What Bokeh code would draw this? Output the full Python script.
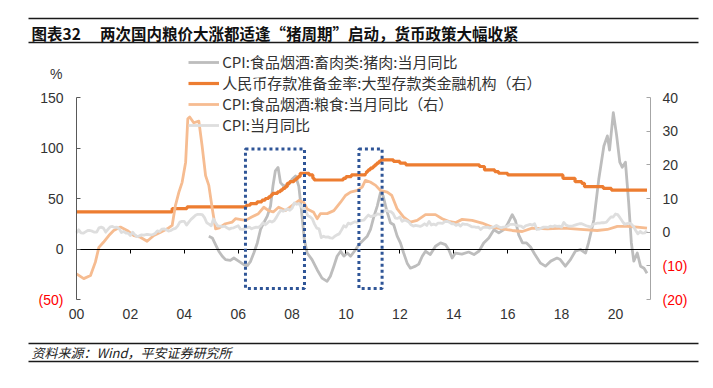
from bokeh.plotting import figure
from bokeh.models import (Range1d, LinearAxis, FixedTicker, Label, Legend,
                          LegendItem, BoxAnnotation)
from bokeh.embed import file_html
from bokeh.resources import INLINE

# ---------------- data ----------------
# CPI YoY (%), monthly from 2000-01 (right axis)
cpi_start = 2000.0
cpi_yoy = [
    -0.2, 0.7, -0.2, -0.3, 0.1, 0.5, 0.5, 0.3, 0.0, 0.0, 1.3, 1.5,      # 2000
    1.2, 0.0, 0.8, 1.6, 1.7, 1.4, 1.5, 1.0, -0.1, 0.2, -0.3, -0.3,      # 2001
    -1.0, 0.0, -0.8, -1.3, -1.1, -0.8, -0.9, -0.7, -0.7, -0.8, -0.7, -0.4,  # 2002
    0.4, 0.2, 0.9, 1.0, 0.7, 0.3, 0.5, 0.9, 1.1, 1.8, 3.0, 3.2,         # 2003
    3.2, 2.1, 3.0, 3.8, 4.4, 5.0, 5.3, 5.3, 5.2, 4.3, 2.8, 2.4,         # 2004
    1.9, 3.9, 2.7, 1.8, 1.8, 1.6, 1.8, 1.3, 0.9, 1.2, 1.3, 1.6,         # 2005
    1.9, 0.9, 0.8, 1.2, 1.4, 1.5, 1.0, 1.3, 1.5, 1.4, 1.9, 2.8,         # 2006
    2.2, 2.7, 3.3, 3.0, 3.4, 4.4, 5.6, 6.5, 6.2, 6.5, 6.9, 6.5,         # 2007
    7.1, 8.7, 8.3, 8.5, 7.7, 7.1, 6.3, 4.9, 4.6, 4.0, 2.4, 1.2,         # 2008
    1.0, -1.6, -1.2, -1.5, -1.4, -1.7, -1.8, -1.2, -0.8, -0.5, 0.6, 1.9,  # 2009
    1.5, 2.7, 2.4, 2.8, 3.1, 2.9, 3.3, 3.5, 3.6, 4.4, 5.1, 4.6,         # 2010
    4.9, 4.9, 5.4, 5.3, 5.5, 6.4, 6.5, 6.2, 6.1, 5.5, 4.2, 4.1,         # 2011
    4.5, 3.2, 3.6, 3.4, 3.0, 2.2, 1.8, 2.0, 1.9, 1.7, 2.0, 2.5,         # 2012
    2.0, 3.2, 2.1, 2.4, 2.1, 2.7, 2.7, 2.6, 3.1, 3.2, 3.0, 2.5,         # 2013
    2.5, 2.0, 2.4, 1.8, 2.5, 2.3, 2.3, 2.0, 1.6, 1.6, 1.4, 1.5,         # 2014
    0.8, 1.4, 1.4, 1.5, 1.2, 1.4, 1.6, 2.0, 1.6, 1.3, 1.5, 1.6,         # 2015
    1.8, 2.3, 2.3, 2.3, 2.0, 1.9, 1.8, 1.3, 1.9, 2.1, 2.3, 2.1,         # 2016
    2.5, 0.8, 0.9, 1.2, 1.5, 1.5, 1.4, 1.8, 1.6, 1.9, 1.7, 1.8,         # 2017
    1.5, 2.9, 2.1, 1.8, 1.8, 1.9, 2.1, 2.3, 2.5, 2.5, 2.2, 1.9,         # 2018
    1.7, 1.5, 2.3, 2.5, 2.7, 2.7, 2.8, 2.8, 3.0, 3.8, 4.5, 4.5,         # 2019
    5.4, 5.2, 4.3, 3.3, 2.4, 2.5, 2.7, 2.4, 1.7, 0.5, -0.5, 0.2,        # 2020
    -0.3, -0.2, 0.4,                                                    # 2021
]

# Pork CPI YoY (%) (left axis): (time, value)
pork_points = [
    (2004.91, 12.7), (2005.04, 11.0), (2005.16, 4.4), (2005.28, -2.2), (2005.41, -7.2),
    (2005.53, -10.5), (2005.71, -11.2), (2005.84, -8.9), (2006.03, -12.2), (2006.21, -15.5),
    (2006.34, -16.5), (2006.46, -12.2), (2006.58, -3.9), (2006.71, 6.0), (2006.83, 19.4),
    (2006.95, 26.0), (2007.08, 32.6), (2007.2, 42.5), (2007.29, 62.4), (2007.38, 77.4),
    (2007.48, 80.7), (2007.57, 65.7), (2007.69, 62.4), (2007.88, 64.0), (2008.0, 69.0),
    (2008.13, 72.4), (2008.25, 62.0), (2008.35, 38.0), (2008.45, 10.0), (2008.56, -4.0),
    (2008.74, -10.5), (2008.93, -20.5), (2009.11, -28.8), (2009.3, -32.0), (2009.42, -27.0),
    (2009.55, -17.0), (2009.67, -7.2), (2009.8, -2.2), (2009.92, -7.0), (2010.05, -4.0),
    (2010.17, -7.2), (2010.36, -0.5), (2010.48, 4.4), (2010.6, 7.7), (2010.79, 12.7),
    (2010.91, 19.4), (2011.04, 32.6), (2011.16, 42.5), (2011.28, 55.8), (2011.38, 52.5),
    (2011.5, 39.2), (2011.65, 26.0), (2011.77, 24.0), (2011.9, 12.7), (2012.02, 6.0),
    (2012.14, -4.0), (2012.27, -14.0), (2012.39, -19.0), (2012.58, -17.0), (2012.7, -15.0),
    (2012.83, -7.2), (2012.95, -2.2), (2013.13, -5.5), (2013.32, 2.7), (2013.51, 6.0),
    (2013.69, 4.4), (2013.81, -0.5), (2013.94, -8.9), (2014.06, -4.0), (2014.3, -5.0),
    (2014.55, -3.0), (2014.75, -5.5), (2014.94, -2.0), (2015.11, 6.0), (2015.3, 11.0),
    (2015.49, 19.0), (2015.67, 16.0), (2015.85, 19.0), (2015.98, 24.0), (2016.17, 34.0),
    (2016.29, 28.0), (2016.41, 14.0), (2016.55, 6.0), (2016.7, 6.0), (2016.85, 2.0),
    (2017.0, -5.0), (2017.22, -14.0), (2017.4, -17.0), (2017.6, -12.0), (2017.83, -9.0),
    (2017.95, -10.5), (2018.14, -17.0), (2018.33, -10.5), (2018.51, -2.2), (2018.7, -0.5),
    (2018.89, -4.0), (2019.0, 6.0), (2019.2, 29.0), (2019.38, 69.0), (2019.57, 102.0),
    (2019.7, 112.0), (2019.78, 98.0), (2019.92, 135.0), (2020.04, 113.0), (2020.16, 86.0),
    (2020.25, 81.0), (2020.37, 86.0), (2020.49, 46.0), (2020.59, 6.0), (2020.68, -12.0),
    (2020.81, -4.0), (2020.93, -17.0), (2021.06, -19.0), (2021.17, -24.0),
]

# Grain CPI YoY (%) (right axis): (time, value)
grain_points = [
    (2000.0, -12.4), (2000.27, -13.8), (2000.52, -12.9), (2000.7, -8.9), (2000.83, -4.5),
    (2001.0, -3.0), (2001.2, -1.0), (2001.38, 0.5), (2001.63, 1.5), (2001.88, 0.5),
    (2002.13, -1.0), (2002.37, -1.5), (2002.62, -2.7), (2002.87, -1.0), (2003.12, 0.0),
    (2003.37, 1.0), (2003.55, 2.0), (2003.67, 7.9), (2003.8, 11.9), (2003.92, 14.8),
    (2004.05, 20.8), (2004.13, 33.7), (2004.2, 34.2), (2004.35, 32.5), (2004.54, 33.0),
    (2004.66, 25.7), (2004.79, 16.8), (2004.91, 13.9), (2005.04, 6.9), (2005.16, 1.0),
    (2005.3, 1.3), (2005.53, 2.5), (2005.78, 3.0), (2005.9, 4.0), (2006.27, 3.5),
    (2006.5, 4.5), (2006.75, 5.5), (2006.95, 7.4), (2007.13, 6.4), (2007.3, 6.0),
    (2007.5, 7.4), (2007.75, 6.4), (2008.0, 7.9), (2008.25, 9.4), (2008.43, 8.9),
    (2008.56, 6.9), (2008.8, 5.9), (2008.93, 4.0), (2009.05, 5.5), (2009.3, 5.5),
    (2009.55, 6.4), (2009.8, 8.9), (2009.98, 10.9), (2010.17, 11.9), (2010.42, 12.4),
    (2010.6, 13.4), (2010.72, 15.4), (2010.9, 14.9), (2011.1, 13.9), (2011.28, 12.4),
    (2011.53, 11.9), (2011.7, 10.9), (2011.9, 6.9), (2012.14, 4.5), (2012.39, 3.0),
    (2012.64, 3.5), (2012.95, 5.2), (2013.32, 5.2), (2013.57, 4.0), (2013.81, 3.2),
    (2014.06, 2.8), (2014.31, 3.8), (2014.68, 3.5), (2015.05, 2.7), (2015.42, 1.5),
    (2015.79, 1.0), (2016.17, 0.5), (2016.54, 0.2), (2016.91, 1.2), (2017.47, 1.0),
    (2018.09, 1.2), (2018.7, 0.8), (2019.32, 0.5), (2019.7, 0.8), (2020.07, 1.7),
    (2020.44, 1.7), (2020.81, 1.5), (2021.17, 1.2),
]

# Required reserve ratio, large institutions (%) (right axis): step changes
rrr_t = [2000.0, 2003.55, 2004.1, 2006.3, 2006.45, 2006.7, 2006.88, 2007.0, 2007.13,
         2007.21, 2007.27, 2007.46, 2007.57, 2007.65, 2007.74, 2007.82, 2007.91, 2008.07,
         2008.15, 2008.22, 2008.3, 2008.63, 2008.77, 2008.82, 2009.9, 2010.0, 2010.2,
         2010.72, 2010.76, 2010.82, 2010.9, 2011.0, 2011.07, 2011.14, 2011.22, 2011.3,
         2011.76, 2012.0, 2012.22, 2014.95, 2015.14, 2015.52, 2015.66, 2016.0, 2018.05,
         2018.5, 2018.75, 2018.85, 2019.55, 2019.85, 2021.17]
rrr_v = [6.0, 7.0, 7.5, 8.0, 8.5, 9.0, 9.5, 10.0, 10.5,
         11.0, 11.5, 12.0, 12.5, 13.0, 13.5, 14.5, 15.0, 15.5,
         16.0, 16.5, 17.5, 17.0, 16.0, 15.5, 16.0, 16.5, 17.0,
         17.5, 18.0, 18.5, 19.0, 19.5, 20.0, 20.5, 21.0, 21.5,
         21.0, 20.5, 20.0, 19.5, 18.5, 18.0, 17.5, 17.0, 16.0,
         15.0, 14.5, 13.5, 13.0, 12.5, 12.5]

# highlighted "pig cycle" periods (years) and their vertical extent (left axis)
highlight_periods = [(2006.27, 2008.46), (2010.48, 2011.34)]
highlight_extent = (-39, 99)

x_ticks = [2000, 2002, 2004, 2006, 2008, 2010, 2012, 2014, 2016, 2018, 2020]
x_tick_labels = ["00", "02", "04", "06", "08", "10", "12", "14", "16", "18", "20"]
left_ticks = [-50, 0, 50, 100, 150]
right_ticks = [-20, -10, 0, 10, 20, 30, 40]

labels = ["CPI:食品烟酒:畜肉类:猪肉:当月同比",
          "人民币存款准备金率:大型存款类金融机构（右）",
          "CPI:食品烟酒:粮食:当月同比（右）",
          "CPI:当月同比"]
title_num = "图表32"
title_text = "两次国内粮价大涨都适逢“猪周期”启动，货币政策大幅收紧"
source_text = "资料来源：Wind，平安证券研究所"

# ---------------- layout / styles ----------------
W, H = 705, 380                      # canvas
PX_L, PX_R, PX_T, PX_B = 76, 650, 97, 299   # plot area in canvas pixels
X0, X1 = 2000.0, 2021.3
YL0, YL1 = -50, 150
YR0, YR1 = -20, 40

C_PORK = "#BDBDBD"
C_RRR = "#ED7D31"
C_GRAIN = "#F6BC91"
C_CPI = "#DEDEDE"
C_BOX = "#2F5597"
C_RULE = "#1A1A1A"
C_TEXT = "#333333"
NUM_FONT = "Liberation Sans"
CJK_FONT = "Noto Sans CJK SC"

kx = (PX_R - PX_L) / (X1 - X0)
kyl = (PX_B - PX_T) / (YL1 - YL0)
kyr = (PX_B - PX_T) / (YR1 - YR0)

x_range = Range1d(X0 - PX_L / kx, X1 + (W - PX_R) / kx)
y_range = Range1d(YL0 - (H - PX_B) / kyl, YL1 + PX_T / kyl)
yr_range = Range1d(YR0 - (H - PX_B) / kyr, YR1 + PX_T / kyr)


def at_x(px):
    return x_range.start + px / kx


def at_y(py):
    return y_range.end - py / kyl


def neg_label(v):
    return "(%d)" % abs(v)


p = figure(width=W, height=H, x_range=x_range, y_range=y_range,
           output_backend="svg", toolbar_location=None, min_border=0,
           x_axis_location=None, y_axis_location=None, outline_line_color=None)
p.extra_y_ranges = {"right": yr_range}
p.grid.visible = False

# left axis
la = LinearAxis(fixed_location=X0, bounds=(YL0, YL1), ticker=FixedTicker(ticks=left_ticks),
                major_label_overrides={v: ("" if v < 0 else str(v)) for v in left_ticks},
                axis_line_color="#595959", major_tick_line_color="#595959",
                major_tick_in=4, major_tick_out=0, minor_tick_line_color=None,
                major_label_text_font=NUM_FONT, major_label_text_font_size="14px",
                major_label_text_color=C_TEXT, major_label_standoff=13)
p.add_layout(la, "left")

# right axis
ra = LinearAxis(y_range_name="right", fixed_location=X1, bounds=(YR0, YR1),
                ticker=FixedTicker(ticks=right_ticks),
                major_label_overrides={v: ("" if v < 0 else str(v)) for v in right_ticks},
                axis_line_color="#A6A6A6", major_tick_line_color="#A6A6A6",
                major_tick_in=4, major_tick_out=0, minor_tick_line_color=None,
                major_label_text_font=NUM_FONT, major_label_text_font_size="14px",
                major_label_text_color=C_TEXT, major_label_standoff=12)
p.add_layout(ra, "right")

# zero line with tick marks
za = LinearAxis(fixed_location=0, bounds=(X0, X1), ticker=FixedTicker(ticks=x_ticks),
                axis_line_color="#000000", axis_line_width=1,
                major_tick_line_color="#000000", major_tick_in=0, major_tick_out=4,
                minor_tick_line_color=None, major_label_text_color=None)
p.add_layout(za, "below")

# bottom labels
xa = LinearAxis(fixed_location=YL0, ticker=FixedTicker(ticks=x_ticks),
                major_label_overrides=dict(zip(x_ticks, x_tick_labels)),
                axis_line_color=None, major_tick_line_color=None, minor_tick_line_color=None,
                major_label_text_font=NUM_FONT, major_label_text_font_size="14px",
                major_label_text_color=C_TEXT, major_label_standoff=3)
p.add_layout(xa, "below")

# red negative tick labels
for v in left_ticks:
    if v < 0:
        p.add_layout(Label(x=X0, y=v, text=neg_label(v), x_offset=-13,
                           text_align="right", text_baseline="middle", text_color="#FF0000",
                           text_font=NUM_FONT, text_font_size="14px"))
for v in right_ticks:
    if v < 0:
        p.add_layout(Label(x=X1, y=v, y_range_name="right", text=neg_label(v),
                           x_offset=12, text_align="left", text_baseline="middle",
                           text_color="#FF0000", text_font=NUM_FONT, text_font_size="14px"))

# unit label
p.add_layout(Label(x=X0, y=YL1, text="%", x_offset=-14, y_offset=24,
                   text_align="right", text_baseline="middle", text_color=C_TEXT,
                   text_font=NUM_FONT, text_font_size="14px"))

# series
cpi_x = [cpi_start + i / 12.0 for i in range(len(cpi_yoy))]
pork_x = [t for t, v in pork_points]
pork_y = [v for t, v in pork_points]
grain_x = [t for t, v in grain_points]
grain_y = [v for t, v in grain_points]

r_pork = p.line(pork_x, pork_y, line_color=C_PORK, line_width=2.8, line_join="round")
r_rrr = p.step(rrr_t, rrr_v, mode="after", y_range_name="right", line_color=C_RRR,
               line_width=3.2)
r_grain = p.line(grain_x, grain_y, y_range_name="right", line_color=C_GRAIN, line_width=2.8,
                 line_join="round")
r_cpi = p.line(cpi_x, cpi_yoy, y_range_name="right", line_color=C_CPI, line_width=2.8,
               line_join="round")

for a, b in highlight_periods:
    p.add_layout(BoxAnnotation(left=a, right=b, bottom=highlight_extent[0], top=highlight_extent[1],
                               fill_alpha=0, line_color=C_BOX, line_alpha=1, line_width=3,
                               line_dash="3 3"))

legend = Legend(items=[LegendItem(label=labels[0], renderers=[r_pork]),
                       LegendItem(label=labels[1], renderers=[r_rrr]),
                       LegendItem(label=labels[2], renderers=[r_grain]),
                       LegendItem(label=labels[3], renderers=[r_cpi])],
                location=(188.3, H - 135.3), orientation="vertical",
                glyph_width=31, glyph_height=18, label_height=18, label_standoff=3,
                spacing=0, padding=0, margin=0,
                background_fill_alpha=0, border_line_alpha=0,
                label_text_font=CJK_FONT, label_text_font_size="15px",
                label_text_color=C_TEXT)
p.add_layout(legend)

# ---------------- title & source ----------------
for py in (18, 42, 343, 361):
    p.add_layout(BoxAnnotation(left=at_x(28), right=at_x(698), top=at_y(py), bottom=at_y(py),
                               fill_alpha=0, line_color=C_RULE, line_alpha=1, line_width=1.6))
p.add_layout(Label(x=at_x(31), y=at_y(32), text=title_num, text_font=CJK_FONT,
                   text_font_style="bold", text_font_size="15.5px", text_baseline="middle",
                   text_color="#111111"))
p.add_layout(Label(x=at_x(99.5), y=at_y(32), text=title_text, text_font=CJK_FONT,
                   text_font_style="bold", text_font_size="15.5px", text_baseline="middle",
                   text_color="#111111"))
p.add_layout(Label(x=at_x(31), y=at_y(352), text=source_text, text_font=CJK_FONT,
                   text_font_style="italic", text_font_size="13px", text_baseline="middle",
                   text_color="#222222"))

open("out.html", "w").write(file_html(p, INLINE))
